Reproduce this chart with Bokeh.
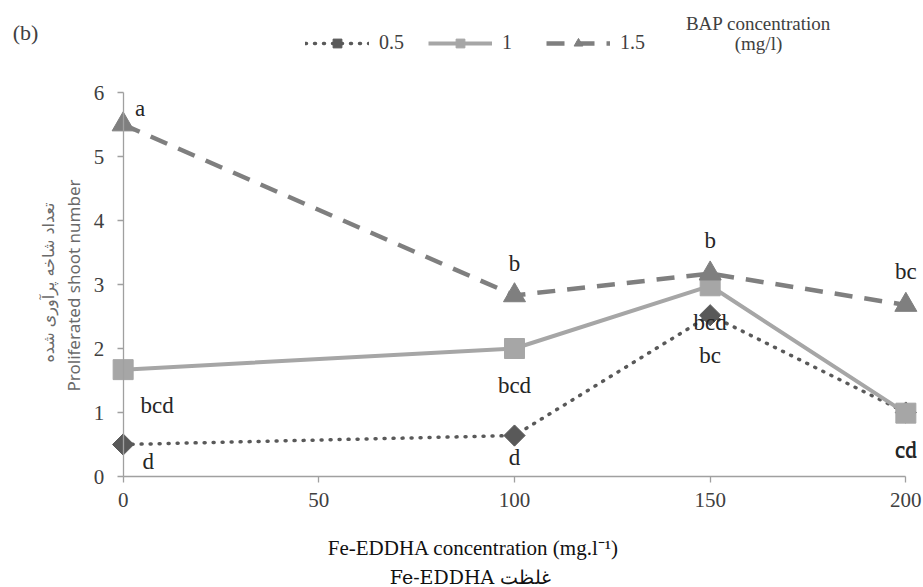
import math
from bokeh.plotting import figure
from bokeh.models import Range1d, Label, Legend, LegendItem, FixedTicker, ColumnDataSource, LinearAxis
from bokeh.core.properties import value
from bokeh.embed import file_html
from bokeh.resources import INLINE

# ---- data ----
fe_conc = [0, 100, 150, 200]
bap_05 = [0.5, 0.64, 2.52, 1.0]
bap_1 = [1.67, 2.0, 2.98, 0.99]
bap_15 = [5.5, 2.83, 3.17, 2.68]
letters_05 = ["d", "d", "bc", "cd"]
letters_1 = ["bcd", "bcd", "bcd", "cd"]
letters_15 = ["a", "b", "b", "bc"]
series_labels = ["0.5", "1", "1.5"]
x_ticks = [0, 50, 100, 150, 200]
y_ticks = [0, 1, 2, 3, 4, 5, 6]

# ---- styles (pixel offsets of significance letters) ----
dx_05, dy_05 = [25, 0, 0, 0], [17, 22, 40, 37]
dx_1, dy_1 = [34, 0, 0, 0], [36, 37, 37, 37]
dx_15, dy_15 = [17, 0, 0, 0], [-16, -32, -33, -33]

SERIF = value("Liberation Serif")
W, H = 923, 587

# frame covers the whole canvas; axes are fixed at 0 inside it
p = figure(width=W, height=H, output_backend="svg", toolbar_location=None,
           x_range=Range1d(-31.34, 204.51), y_range=Range1d(-1.734, 7.4375),
           x_axis_location=None, y_axis_location=None,
           min_border_left=0, min_border_right=0, min_border_top=0,
           min_border_bottom=0)
p.outline_line_color = None
p.xgrid.visible = False
p.ygrid.visible = False
p.background_fill_color = "white"
p.border_fill_color = "white"

xax = LinearAxis(ticker=FixedTicker(ticks=x_ticks), bounds=(0, 200), fixed_location=0)
yax = LinearAxis(ticker=FixedTicker(ticks=y_ticks), bounds=(0, 6), fixed_location=0)
for ax in (xax, yax):
    ax.axis_line_color = "#a0a0a0"
    ax.axis_line_width = 1.3
    ax.major_tick_line_color = "#a0a0a0"
    ax.major_tick_line_width = 1.3
    ax.minor_tick_line_color = None
    ax.major_tick_in = 0
    ax.major_tick_out = 6
    ax.major_label_text_font = "Liberation Serif"
    ax.major_label_text_font_size = "21px"
    ax.major_label_text_color = "#404040"
xax.major_label_standoff = 10
yax.major_label_standoff = 13
p.add_layout(xax, "below")
p.add_layout(yax, "left")

# ---- series ----
r05l = p.line(fe_conc, bap_05, line_color="#595959", line_width=3.5,
              line_dash="1 8", line_cap="round")
r05m = p.scatter(fe_conc, bap_05, marker="square", angle=math.pi / 4, size=15,
                 fill_color="#595959", line_color="#595959")
r1l = p.line(fe_conc, bap_1, line_color="#a6a6a6", line_width=4)
r1m = p.scatter(fe_conc, bap_1, marker="square", size=20,
                fill_color="#a6a6a6", line_color="#a6a6a6")
r15l = p.line(fe_conc, bap_15, line_color="#7f7f7f", line_width=4.5,
              line_dash="18 12")
r15m = p.scatter(fe_conc, bap_15, marker="triangle", size=22,
                 fill_color="#7f7f7f", line_color="#7f7f7f")

# ---- letters ----
for vals, letters, dx, dy in ((bap_05, letters_05, dx_05, dy_05),
                              (bap_1, letters_1, dx_1, dy_1),
                              (bap_15, letters_15, dx_15, dy_15)):
    src = ColumnDataSource(dict(x=fe_conc, y=vals, t=letters, dx=dx, dy=dy))
    p.text(x="x", y="y", text="t", x_offset="dx", y_offset="dy", source=src,
           text_font=SERIF, text_font_size="23px", text_align="center",
           text_baseline="middle", text_color="#262626")

# ---- legend ----
legend = Legend(items=[
    LegendItem(label=series_labels[0], renderers=[r05l, r05m]),
    LegendItem(label=series_labels[1], renderers=[r1l, r1m]),
    LegendItem(label=series_labels[2], renderers=[r15l, r15m]),
], orientation="horizontal", location=(305, 533))
legend.glyph_width = 64
legend.glyph_height = 22
legend.label_standoff = 10
legend.spacing = 24
legend.padding = 0
legend.margin = 0
legend.border_line_alpha = 0
legend.background_fill_alpha = 0
legend.label_text_font = "Liberation Serif"
legend.label_text_font_size = "20px"
legend.label_text_color = "#404040"
p.add_layout(legend, "center")

# ---- free texts (screen units from the canvas bottom-left) ----
def lab(x, y, text, font="Liberation Serif", size="20px", color="#262626", angle=0.0):
    p.add_layout(Label(x=x, y=H - y, x_units="screen", y_units="screen", text=text,
                       text_font=font, text_font_size=size, text_color=color,
                       text_align="center", text_baseline="middle", angle=angle))

lab(25, 32, "(b)", size="22px", color="#404040")
lab(758, 23, "BAP concentration", size="19px", color="#404040")
lab(758, 43, "(mg/l)", size="19px", color="#404040")
lab(473, 547, "Fe-EDDHA concentration (mg.l\u207b\u00b9)", size="21px", color="#111111")
lab(470, 576, "Fe-EDDHA \u063a\u0644\u0638\u062a", font="DejaVu Serif", size="19px", color="#111111")
lab(73, 285, "Proliferated shoot number", font="Noto Sans", size="17px",
    color="#6a6a6a", angle=math.pi / 2)
lab(48, 282, "\u062a\u0639\u062f\u0627\u062f \u0634\u0627\u062e\u0647 \u067e\u0631\u0622\u0648\u0631\u06cc \u0634\u062f\u0647",
    font="DejaVu Sans", size="16px", color="#6a6a6a", angle=math.pi / 2)

open("out.html", "w").write(file_html(p, INLINE))
